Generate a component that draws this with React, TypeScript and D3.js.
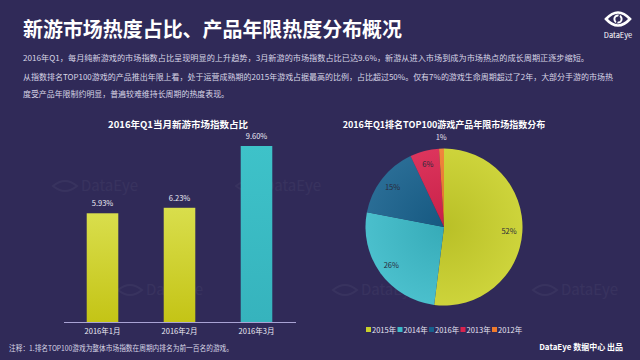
import React from "react";
import * as d3 from "d3";

const months = ["2016年1月", "2016年2月", "2016年3月"];
const shares = [5.93, 6.23, 9.6];
const shareLabels = ["5.93%", "6.23%", "9.60%"];

const years = ["2015年", "2014年", "2016年", "2013年", "2012年"];
const yearShares = [52, 26, 15, 6, 1];
const yearColors = ["#c9d02a", "#3bbac8", "#17608c", "#d9234e", "#f07b2c"];

const titleText = "新游市场热度占比、产品年限热度分布概况";
const paragraphLines = [
  "2016年Q1，每月纯新游戏的市场指数占比呈现明显的上升趋势，3月新游的市场指数占比已达9.6%，新游从进入市场到成为市场热点的成长周期正逐步缩短。",
  "从指数排名TOP100游戏的产品推出年限上看，处于运营成熟期的2015年游戏占据最高的比例，占比超过50%。仅有7%的游戏生命周期超过了2年，大部分手游的市场热",
  "度受产品年限制约明显，普遍较难维持长周期的热度表现。",
];
const barTitle = "2016年Q1当月新游市场指数占比";
const pieTitle = "2016年Q1排名TOP100游戏产品年限市场指数分布";
const footNote = "注释：1.排名TOP100游戏为整体市场指数在周期内排名为前一百名的游戏。";
const credit = "DataEye 数据中心 出品";

const FONT = "'Noto Sans CJK SC', 'Noto Sans', sans-serif";
const BG = "#302a58";

function EyeLogo({ cx, cy }: { cx: number; cy: number }) {
  return (
    <g transform={`translate(${cx},${cy})`}>
      <path d="M-12,0 Q0,-13 12,0 Q0,13 -12,0 Z" fill="none" stroke="#fff" strokeWidth={2.6} />
      <circle r={3.6} fill="none" stroke="#fff" strokeWidth={2} />
      <path d="M-1.5,4 L1.5,-4" stroke={BG} strokeWidth={1.4} />
    </g>
  );
}

export default function App() {
  const W = 640, H = 360;

  // bar chart
  const x = d3.scaleBand<string>().domain(months).range([64, 295]).paddingInner(0.59).paddingOuter(0.295);
  const y = d3.scaleLinear().domain([0, 9.6]).range([322, 146]);

  // pie
  const cx = 444, cy = 227, R = 78.5;
  const pie = d3.pie<number>().sort(null).value((d) => d)(yearShares);
  const arc = d3.arc<d3.PieArcDatum<number>>().innerRadius(0).outerRadius(R);
  const labelArc = d3.arc<d3.PieArcDatum<number>>().innerRadius(R * 0.83).outerRadius(R * 0.83);
  const outerLabelArc = d3.arc<d3.PieArcDatum<number>>().innerRadius(R + 12).outerRadius(R + 12);

  const watermarks = [
    [85, 186], [268, 186], [150, 290], [365, 290], [565, 290],
  ];

  return (
    <svg width={W} height={H} style={{ position: "absolute", left: 0, top: 0, display: "block" }} fontFamily={FONT}>
      <defs>
        <linearGradient id="barY" x1="0" y1="0" x2="0" y2="1">
          <stop offset="0" stopColor="#d9de4c" />
          <stop offset="1" stopColor="#c4c416" />
        </linearGradient>
        <linearGradient id="barT" x1="0" y1="0" x2="0" y2="1">
          <stop offset="0" stopColor="#3ec2c9" />
          <stop offset="1" stopColor="#36b3bd" />
        </linearGradient>
        <radialGradient id="pieShade" cx={0} cy={0} r={R} gradientUnits="userSpaceOnUse">
          <stop offset="0" stopColor="#000" stopOpacity={0.08} />
          <stop offset="1" stopColor="#fff" stopOpacity={0.08} />
        </radialGradient>
      </defs>
      <rect width={W} height={H} fill={BG} />

      {/* watermarks */}
      {watermarks.map(([wx, wy], i) => (
        <g key={i} opacity={0.04}>
          <path d={`M${wx - 32},${wy} Q${wx - 20},${wy - 10} ${wx - 8},${wy} Q${wx - 20},${wy + 10} ${wx - 32},${wy} Z`} fill="none" stroke="#fff" strokeWidth={2} />
          <text x={wx - 4} y={wy + 5} fontSize={15} fill="#fff">DataEye</text>
        </g>
      ))}

      {/* header */}
      <text x={23} y={37} fontSize={20} fontWeight={700} fill="#fff" textLength={379} lengthAdjust="spacingAndGlyphs">{titleText}</text>
      <EyeLogo cx={618} cy={19} />
      <text x={618} y={38} fontSize={7.5} fill="#fff" textAnchor="middle">DataEye</text>

      <text x={23} y={61} fontSize={8} fill="#d8d6e6" textLength={566} lengthAdjust="spacingAndGlyphs">{paragraphLines[0]}</text>
      <text x={23} y={80} fontSize={8} fill="#d8d6e6" textLength={590} lengthAdjust="spacingAndGlyphs">{paragraphLines[1]}</text>
      <text x={23} y={97} fontSize={8} fill="#d8d6e6" textLength={206} lengthAdjust="spacingAndGlyphs">{paragraphLines[2]}</text>

      {/* bar chart */}
      <text x={178} y={128} fontSize={9.5} fontWeight={700} fill="#fff" textAnchor="middle">{barTitle}</text>
      {months.map((m, i) => (
        <g key={m}>
          <rect x={x(m)} y={y(shares[i])} width={x.bandwidth()} height={y(0) - y(shares[i])} fill={i === 2 ? "url(#barT)" : "url(#barY)"} />
          <text x={(x(m) as number) + x.bandwidth() / 2} y={y(shares[i]) - 7} fontSize={7.5} fill="#eceaf5" textAnchor="middle">{shareLabels[i]}</text>
          <text x={(x(m) as number) + x.bandwidth() / 2} y={334} fontSize={7.5} fill="#eceaf5" textAnchor="middle">{m}</text>
        </g>
      ))}
      <line x1={64} x2={296} y1={322.5} y2={322.5} stroke="#a9a3d4" strokeWidth={1} />

      {/* pie */}
      <text x={444} y={128} fontSize={9} fontWeight={700} fill="#fff" textAnchor="middle">{pieTitle}</text>
      <g transform={`translate(${cx},${cy})`}>
        {pie.map((p, i) => (
          <path key={i} d={arc(p) as string} fill={yearColors[i]} />
        ))}
        <circle r={R} fill="url(#pieShade)" />
        {pie.map((p, i) => {
          const c = i === 4 ? outerLabelArc.centroid(p) : labelArc.centroid(p);
          return (
            <text key={i} x={c[0]} y={c[1] + 3} fontSize={7.5} fill={i === 4 ? "#e6e4f2" : "#2a2a3a"} textAnchor="middle">
              {yearShares[i]}%
            </text>
          );
        })}
      </g>

      {/* legend */}
      {years.map((yr, i) => {
        const lx = 366 + i * 31.5;
        return (
          <g key={yr}>
            <rect x={lx} y={327} width={5} height={5} fill={yearColors[i]} />
            <text x={lx + 6} y={333} fontSize={7.5} fill="#e6e4f2">{yr}</text>
          </g>
        );
      })}

      {/* footer */}
      <text x={9} y={351} fontSize={7.5} fill="#d8d6e6" textLength={224} lengthAdjust="spacingAndGlyphs">{footNote}</text>
      <text x={623} y={350} fontSize={8} fontWeight={700} fill="#fff" textAnchor="end">{credit}</text>
    </svg>
  );
}
